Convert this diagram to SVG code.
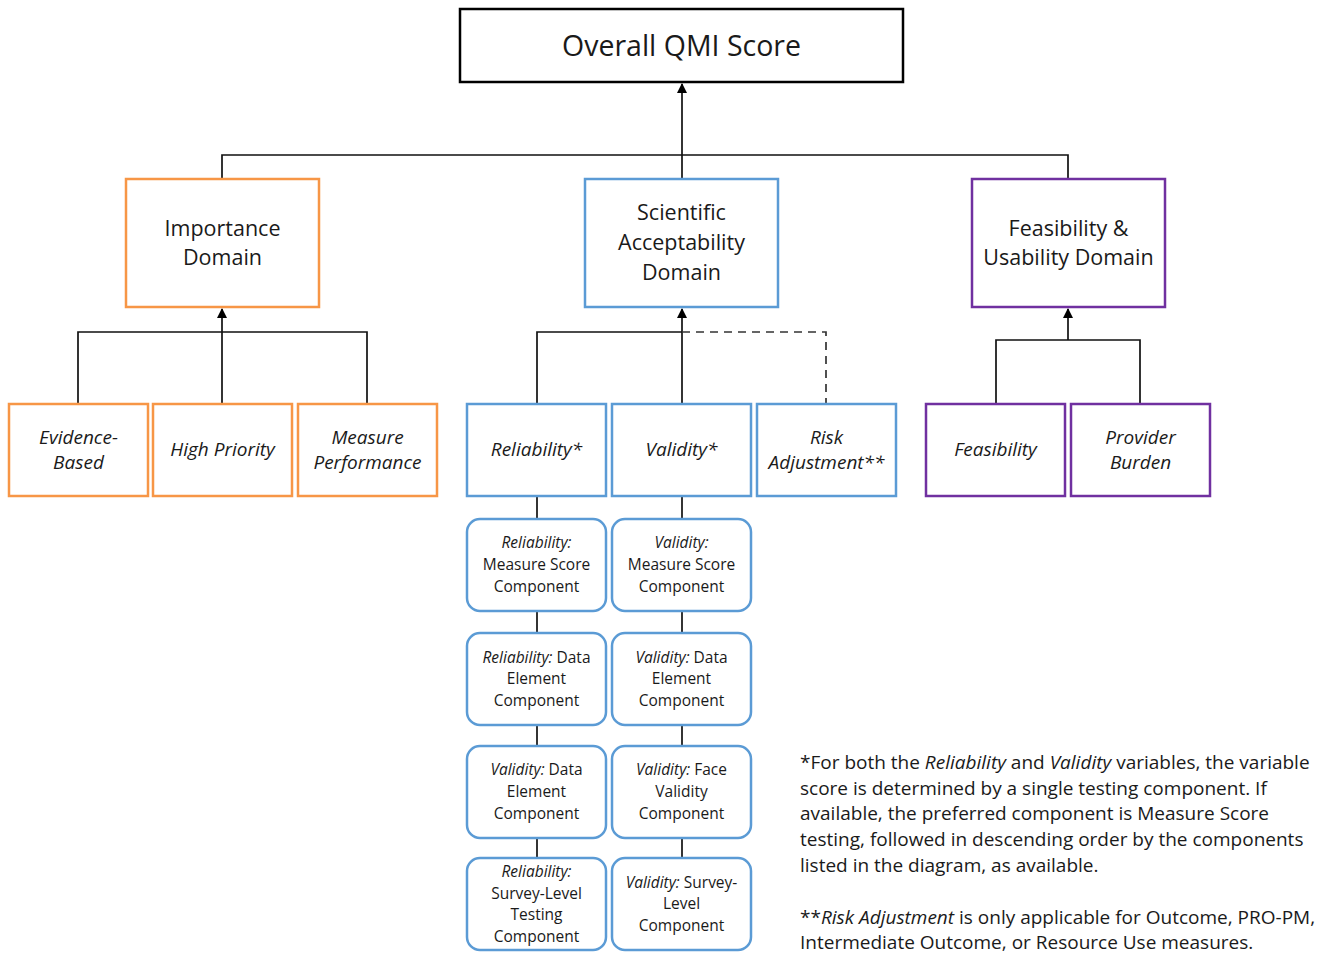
<svg xmlns="http://www.w3.org/2000/svg" width="1331" height="953" viewBox="0 0 1331 953">
  <defs>
    <marker id="arrow" viewBox="0 0 10 10" refX="9" refY="5" markerWidth="11" markerHeight="10" markerUnits="userSpaceOnUse" orient="auto">
      <path d="M0,0 L10,5 L0,10 z" fill="#000"/>
    </marker>
    <style>
      text { font-family: "Open Sans", Lato, sans-serif; fill: #1a1a1a; text-anchor: middle; }
      .title { font-size: 28.5px; }
      .dom { font-size: 21.5px; }
      .sub { font-size: 19px; font-style: italic; }
      .comp { font-size: 15.5px; }
      .comp .it { font-style: italic; }
      .note { font-size: 19px; text-anchor: start; }
      .note .it { font-style: italic; }
      .box { fill: #fff; stroke-width: 2.5; }
      .black { stroke: #000; }
      .orange { stroke: #F79646; }
      .blue { stroke: #5B9BD5; }
      .purple { stroke: #7030A0; }
      .line { fill: none; stroke: #111; stroke-width: 1.7; }
      .dash { fill: none; stroke: #333; stroke-width: 1.7; stroke-dasharray: 8 6; }
    </style>
  </defs>

  <!-- connectors -->
  <g id="connectors">
    <!-- domains to overall score -->
    <path class="line" d="M222,179 V155 H1068 V179"/>
    <path class="line" d="M682,179 V84" marker-end="url(#arrow)"/>
    <!-- importance children -->
    <path class="line" d="M78,404 V332 H367 V404"/>
    <path class="line" d="M222,404 V309" marker-end="url(#arrow)"/>
    <!-- scientific acceptability children -->
    <path class="line" d="M537,404 V332 H682"/>
    <path class="line" d="M682,404 V309" marker-end="url(#arrow)"/>
    <path class="dash" d="M682,332 H826 V404"/>
    <!-- feasibility children -->
    <path class="line" d="M996,404 V340 H1140 V404"/>
    <path class="line" d="M1068,340 V309" marker-end="url(#arrow)"/>
    <!-- component chains -->
    <path class="line" d="M537,496 V858"/>
    <path class="line" d="M682,496 V858"/>
  </g>

  <g id="overall">
    <rect class="box black" x="460" y="9" width="443" height="73"/>
    <text class="title" x="681.5" y="56">Overall QMI Score</text>
  </g>

  <g id="importance">
    <rect class="box orange" x="126" y="179" width="193" height="128"/>
    <text class="dom" x="222.5" y="236">Importance</text>
    <text class="dom" x="222.5" y="265">Domain</text>
  </g>
  <g id="scientific">
    <rect class="box blue" x="585" y="179" width="193" height="128"/>
    <text class="dom" x="681.5" y="220">Scientific</text>
    <text class="dom" x="681.5" y="250">Acceptability</text>
    <text class="dom" x="681.5" y="280">Domain</text>
  </g>
  <g id="feasibility-usability">
    <rect class="box purple" x="972" y="179" width="193" height="128"/>
    <text class="dom" x="1068.5" y="236">Feasibility &amp;</text>
    <text class="dom" x="1068.5" y="265">Usability Domain</text>
  </g>

  <g id="evidence-based">
    <rect class="box orange" x="9" y="404" width="139" height="92"/>
    <text class="sub" x="78.5" y="444">Evidence-</text>
    <text class="sub" x="78.5" y="469">Based</text>
  </g>
  <g id="high-priority">
    <rect class="box orange" x="153" y="404" width="139" height="92"/>
    <text class="sub" x="222.5" y="456">High Priority</text>
  </g>
  <g id="measure-performance">
    <rect class="box orange" x="298" y="404" width="139" height="92"/>
    <text class="sub" x="367.5" y="444">Measure</text>
    <text class="sub" x="367.5" y="469">Performance</text>
  </g>

  <g id="reliability">
    <rect class="box blue" x="467" y="404" width="139" height="92"/>
    <text class="sub" x="536.5" y="456">Reliability*</text>
  </g>
  <g id="validity">
    <rect class="box blue" x="612" y="404" width="139" height="92"/>
    <text class="sub" x="681.5" y="456">Validity*</text>
  </g>
  <g id="risk-adjustment">
    <rect class="box blue" x="757" y="404" width="139" height="92"/>
    <text class="sub" x="826.5" y="444">Risk</text>
    <text class="sub" x="826.5" y="469">Adjustment**</text>
  </g>

  <g id="feasibility">
    <rect class="box purple" x="926" y="404" width="139" height="92"/>
    <text class="sub" x="995.5" y="456">Feasibility</text>
  </g>
  <g id="provider-burden">
    <rect class="box purple" x="1071" y="404" width="139" height="92"/>
    <text class="sub" x="1140.5" y="444">Provider</text>
    <text class="sub" x="1140.5" y="469">Burden</text>
  </g>

  <!-- reliability components -->
  <g id="rel-measure-score">
    <rect class="box blue" x="467" y="519" width="139" height="92" rx="13"/>
    <text class="comp" x="536.5" y="548"><tspan class="it">Reliability:</tspan></text>
    <text class="comp" x="536.5" y="570">Measure Score</text>
    <text class="comp" x="536.5" y="592">Component</text>
  </g>
  <g id="rel-data-element">
    <rect class="box blue" x="467" y="633" width="139" height="92" rx="13"/>
    <text class="comp" x="536.5" y="663"><tspan class="it">Reliability:</tspan> Data</text>
    <text class="comp" x="536.5" y="684">Element</text>
    <text class="comp" x="536.5" y="706">Component</text>
  </g>
  <g id="val-data-element-left">
    <rect class="box blue" x="467" y="746" width="139" height="92" rx="13"/>
    <text class="comp" x="536.5" y="775"><tspan class="it">Validity:</tspan> Data</text>
    <text class="comp" x="536.5" y="797">Element</text>
    <text class="comp" x="536.5" y="819">Component</text>
  </g>
  <g id="rel-survey-level">
    <rect class="box blue" x="467" y="858" width="139" height="92" rx="13"/>
    <text class="comp" x="536.5" y="877"><tspan class="it">Reliability:</tspan></text>
    <text class="comp" x="536.5" y="899">Survey-Level</text>
    <text class="comp" x="536.5" y="920">Testing</text>
    <text class="comp" x="536.5" y="942">Component</text>
  </g>

  <!-- validity components -->
  <g id="val-measure-score">
    <rect class="box blue" x="612" y="519" width="139" height="92" rx="13"/>
    <text class="comp" x="681.5" y="548"><tspan class="it">Validity:</tspan></text>
    <text class="comp" x="681.5" y="570">Measure Score</text>
    <text class="comp" x="681.5" y="592">Component</text>
  </g>
  <g id="val-data-element">
    <rect class="box blue" x="612" y="633" width="139" height="92" rx="13"/>
    <text class="comp" x="681.5" y="663"><tspan class="it">Validity:</tspan> Data</text>
    <text class="comp" x="681.5" y="684">Element</text>
    <text class="comp" x="681.5" y="706">Component</text>
  </g>
  <g id="val-face-validity">
    <rect class="box blue" x="612" y="746" width="139" height="92" rx="13"/>
    <text class="comp" x="681.5" y="775"><tspan class="it">Validity:</tspan> Face</text>
    <text class="comp" x="681.5" y="797">Validity</text>
    <text class="comp" x="681.5" y="819">Component</text>
  </g>
  <g id="val-survey-level">
    <rect class="box blue" x="612" y="858" width="139" height="92" rx="13"/>
    <text class="comp" x="681.5" y="888"><tspan class="it">Validity:</tspan> Survey-</text>
    <text class="comp" x="681.5" y="909">Level</text>
    <text class="comp" x="681.5" y="931">Component</text>
  </g>

  <!-- footnotes -->
  <g id="notes">
    <text class="note" x="800" y="769">*For both the <tspan class="it">Reliability</tspan> and <tspan class="it">Validity</tspan> variables, the variable</text>
    <text class="note" x="800" y="795">score is determined by a single testing component. If</text>
    <text class="note" x="800" y="820">available, the preferred component is Measure Score</text>
    <text class="note" x="800" y="846">testing, followed in descending order by the components</text>
    <text class="note" x="800" y="872">listed in the diagram, as available.</text>
    <text class="note" x="800" y="924">**<tspan class="it">Risk Adjustment</tspan> is only applicable for Outcome, PRO-PM,</text>
    <text class="note" x="800" y="949">Intermediate Outcome, or Resource Use measures.</text>
  </g>
</svg>
